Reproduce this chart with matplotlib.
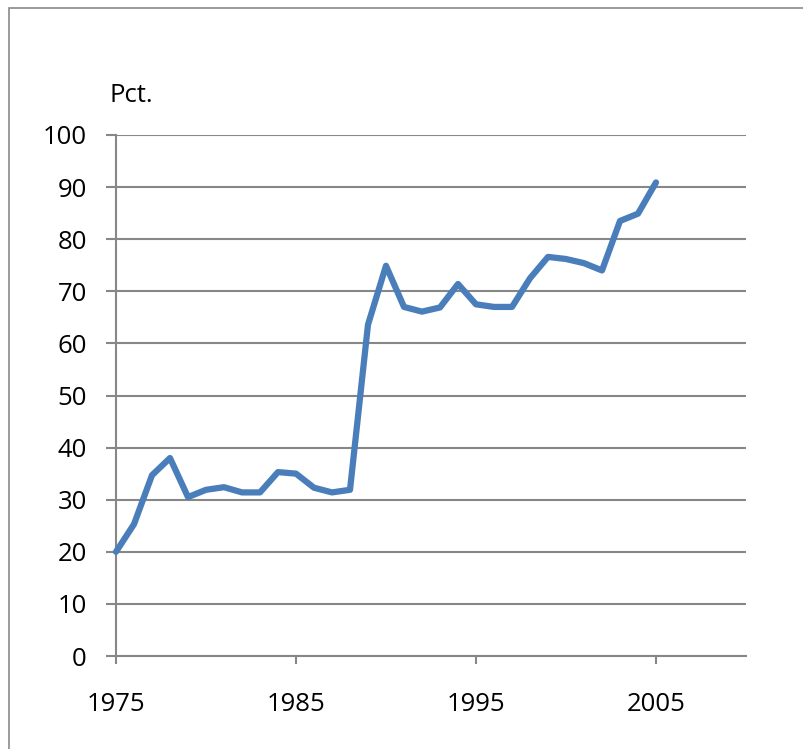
import matplotlib
matplotlib.use("Agg")
import matplotlib.pyplot as plt
from matplotlib.patches import Rectangle

plt.rcParams["font.family"] = ["Open Sans", "DejaVu Sans"]

years = list(range(1975, 2006))
pct = [20.0, 25.3, 34.7, 38.0, 30.5, 31.9, 32.4, 31.4, 31.4, 35.3,
       35.0, 32.3, 31.4, 31.9, 63.6, 74.9, 67.0, 66.1, 66.9, 71.4,
       67.5, 67.0, 67.0, 72.5, 76.6, 76.2, 75.4, 74.0, 83.5, 84.9,
       90.9]
x_ticks = [1975, 1985, 1995, 2005]
y_ticks = list(range(0, 101, 10))

W, H = 804, 749
fig = plt.figure(figsize=(W / 100, H / 100), dpi=100)
fig.patches.append(Rectangle((9 / W, -0.1), 1.2, 1 - 8 / H + 0.1, transform=fig.transFigure,
                             fill=False, edgecolor="#8a8a8a", linewidth=1.2))

ax = fig.add_axes([116 / W, 1 - 656 / H, (746 - 116) / W, (656 - 135) / H])
grid_col = "#878787"
ax.set_xlim(1975, 2010)
ax.set_ylim(0, 100)
ax.set_yticks(y_ticks)
ax.set_xticks(x_ticks)
ax.grid(axis="y", color=grid_col, linewidth=1.5)
ax.set_axisbelow(True)
for s in ["top", "right"]:
    ax.spines[s].set_visible(False)
for s in ["left", "bottom"]:
    ax.spines[s].set_color(grid_col)
    ax.spines[s].set_linewidth(1.5)
ax.tick_params(axis="y", length=7, width=1.5, color=grid_col, pad=14, labelsize=18.5)
ax.tick_params(axis="x", length=6, width=1.5, color=grid_col, pad=20, labelsize=18.5)

ax.plot(years, pct, color="#4a7ebb", linewidth=4.5, solid_joinstyle="round",
        solid_capstyle="round", clip_on=False, zorder=3)

fig.text(110 / W, 1 - 102 / H, "Pct.", fontsize=18.5, ha="left", va="baseline")

fig.savefig("out.png", dpi=100)
